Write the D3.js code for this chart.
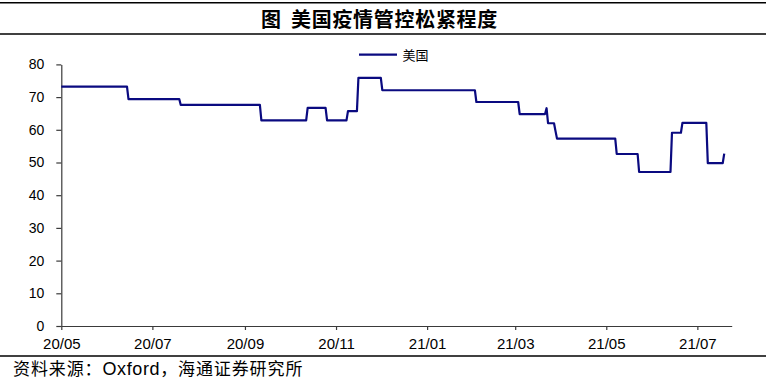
<!DOCTYPE html>
<html>
<head>
<meta charset="utf-8">
<script src="https://cdn.jsdelivr.net/npm/d3@7"></script>
<style>
  html, body { margin: 0; padding: 0; background: #fff; }
  svg { display: block; }
</style>
</head>
<body>
<svg id="chart" width="766" height="381"></svg>
<script>
// ---- data ----
const titleText = "美国疫情管控松紧程度";
const seriesName = "美国";
const sourceParts = ["资料来源：", "Oxford", "，海通证券研究所"];
// start date of each level of the index, and the level
const stepStarts = ["2020-05-01","2020-06-15","2020-07-20","2020-09-12","2020-10-13","2020-10-26",
                    "2020-11-09","2020-11-16","2020-12-02","2021-02-03","2021-03-04","2021-03-22",
                    "2021-03-23","2021-03-28","2021-03-29","2021-05-08","2021-05-23","2021-06-14",
                    "2021-06-21","2021-07-08","2021-07-19"];
const stepValues = [73.2, 69.4, 67.6, 62.9, 66.7, 62.9,
                    65.7, 75.9, 72.1, 68.5, 64.8, 66.6,
                    62.0, 59.6, 57.3, 52.6, 47.1, 59.1,
                    62.1, 49.8, 52.7];
const lastDate = "2021-07-19";
const axisStart = "2020-05-01";
const axisEnd = "2021-07-24";
const xTickDates = ["2020-05-01","2020-07-01","2020-09-01","2020-11-01","2021-01-01","2021-03-01","2021-05-01","2021-07-01"];
const xTickLabels = ["20/05","20/07","20/09","20/11","21/01","21/03","21/05","21/07"];
const yTicks = [0,10,20,30,40,50,60,70,80];

// ---- drawing ----
const parse = d3.utcParse("%Y-%m-%d");
const svg = d3.select("#chart");
const lineColor = "#0a0a80";
const axisColor = "#3a3a3a";
const cjk = "'Noto Sans CJK SC', 'Noto Sans', sans-serif";
const latin = "Arial, 'Liberation Sans', sans-serif";

svg.append("rect").attr("width", 766).attr("height", 381).attr("fill", "#fff");

// rules
[[2.8, 1.6], [34, 1.6], [356, 1.6]].forEach(([y, w]) => {
  svg.append("line").attr("x1", 0).attr("x2", 766).attr("y1", y).attr("y2", y)
    .attr("stroke", "#000").attr("stroke-width", w);
});

// title
svg.append("text").attr("x", 261).attr("y", 27)
  .attr("font-family", cjk).attr("font-weight", "bold").attr("font-size", 20)
  .attr("fill", "#000").text("图");
svg.append("text").attr("x", 291).attr("y", 27)
  .attr("font-family", cjk).attr("font-weight", "bold").attr("font-size", 20)
  .attr("letter-spacing", 0.7).attr("fill", "#000").text(titleText);

// source
const src = svg.append("text").attr("x", 13).attr("y", 375)
  .attr("font-size", 17).attr("fill", "#000");
sourceParts.forEach((p, i) => {
  src.append("tspan")
    .attr("font-family", i === 1 ? latin : cjk)
    .attr("font-size", i === 1 ? 18 : 17)
    .attr("letter-spacing", i === 1 ? 0.6 : 0.9)
    .text(p);
});

// scales
const x = d3.scaleUtc().domain([parse(axisStart), parse(axisEnd)]).range([61.3, 731.7]);
const y = d3.scaleLinear().domain([0, 80]).range([326, 64.4]);

// axes
const yAxis = d3.axisLeft(y).tickValues(yTicks).tickSize(5).tickPadding(12).tickSizeOuter(0);
const gy = svg.append("g").attr("transform", `translate(${x.range()[0]},0)`).call(yAxis);
gy.select(".domain").attr("stroke", axisColor).attr("stroke-width", 1.2);
gy.selectAll(".tick line").attr("stroke", axisColor).attr("stroke-width", 1.2);
gy.selectAll(".tick text").attr("font-family", latin).attr("font-size", 14).attr("fill", "#000");

const xAxis = d3.axisBottom(x).tickValues(xTickDates.map(parse))
  .tickFormat((d, i) => xTickLabels[i]).tickSize(4).tickPadding(8).tickSizeOuter(0);
const gx = svg.append("g").attr("transform", `translate(0,${y(0)})`).call(xAxis);
gx.select(".domain").attr("stroke", axisColor).attr("stroke-width", 1.2);
gx.selectAll(".tick line").attr("stroke", axisColor).attr("stroke-width", 1.2);
gx.selectAll(".tick text").attr("font-family", latin).attr("font-size", 15).attr("fill", "#000");

// series: each level held from its start date to the day before the next level
const DAY = 86400000;
const pts = [];
stepStarts.forEach((s, i) => {
  const start = parse(s);
  const end = i < stepStarts.length - 1 ? new Date(parse(stepStarts[i + 1]).getTime() - DAY) : parse(lastDate);
  pts.push([start, stepValues[i]]);
  if (end > start) pts.push([end, stepValues[i]]);
});
const line = d3.line().x(d => x(d[0])).y(d => y(d[1]));
svg.append("path").datum(pts).attr("d", line)
  .attr("fill", "none").attr("stroke", lineColor).attr("stroke-width", 2.2)
  .attr("stroke-linejoin", "round");

// legend
svg.append("line").attr("x1", 359).attr("x2", 397).attr("y1", 54.7).attr("y2", 54.7)
  .attr("stroke", lineColor).attr("stroke-width", 2.2);
svg.append("text").attr("x", 402.5).attr("y", 59.5)
  .attr("font-family", cjk).attr("font-size", 13).attr("fill", "#000").text(seriesName);
</script>
</body>
</html>
